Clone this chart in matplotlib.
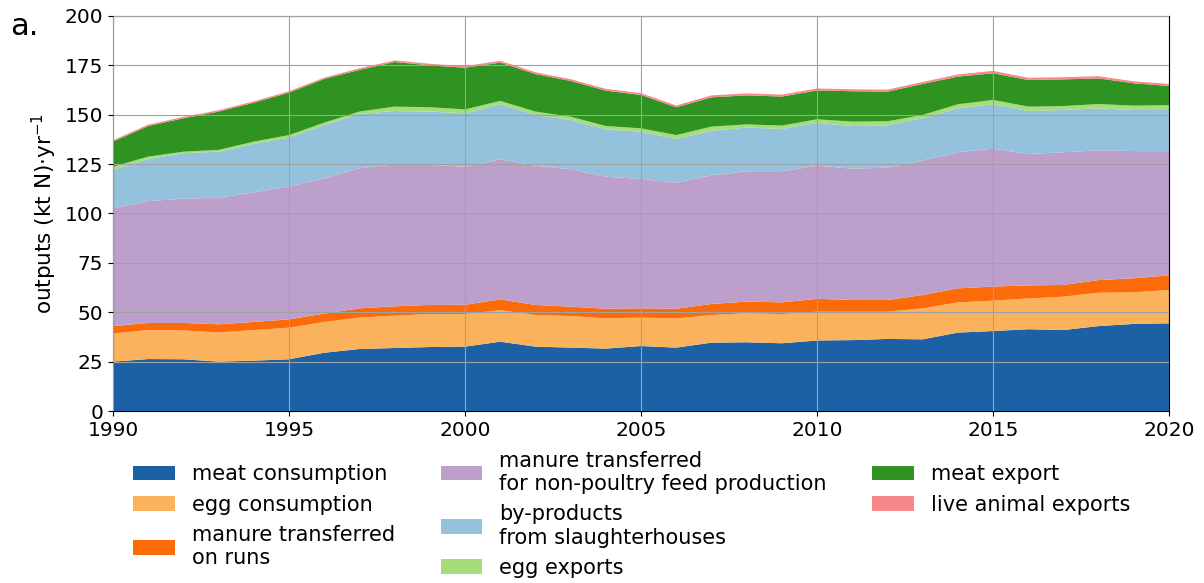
import numpy as np
import matplotlib
matplotlib.use('Agg')
import matplotlib.pyplot as plt

# Poultry N outputs, kt N per year
years = np.arange(1990, 2021)

meat_consumption = [25.0, 26.3, 26.2, 25.0, 25.5, 26.2, 29.5, 31.4, 31.9, 32.4,
                    32.6, 35.1, 32.6, 32.1, 31.6, 32.9, 32.1, 34.6, 34.8, 34.3,
                    35.7, 35.9, 36.5, 36.3, 39.7, 40.5, 41.4, 41.0, 43.0, 44.1, 44.4]
egg_consumption = [14.3, 14.7, 14.6, 14.8, 15.5, 16.0, 15.6, 15.9, 16.4, 16.7,
                   16.5, 16.0, 16.0, 16.0, 15.3, 14.4, 14.8, 14.0, 14.7, 14.8,
                   14.6, 14.4, 13.8, 15.7, 15.3, 15.4, 15.6, 16.9, 16.9, 16.0, 16.9]
manure_runs = [3.7, 3.6, 3.8, 4.1, 4.1, 4.2, 4.2, 4.7, 4.7, 4.6,
               4.7, 5.4, 5.1, 4.7, 4.9, 4.7, 4.9, 5.6, 5.9, 5.9,
               6.5, 5.9, 5.9, 6.7, 7.1, 7.1, 6.6, 5.9, 6.4, 7.1, 7.4]
manure_feed = [59.6, 61.7, 62.9, 64.1, 65.6, 67.2, 68.5, 70.9, 71.9, 70.9,
               69.9, 70.9, 70.5, 69.6, 66.8, 65.5, 63.8, 65.1, 66.0, 66.4,
               67.4, 66.5, 67.0, 68.1, 68.9, 69.8, 66.5, 67.2, 65.7, 64.4, 62.9]
by_products = [19.4, 21.3, 23.0, 23.3, 24.5, 24.8, 27.0, 27.5, 27.0, 27.0,
               27.0, 27.9, 25.7, 24.9, 24.0, 23.9, 22.1, 22.6, 22.1, 21.4,
               21.7, 21.6, 21.4, 21.4, 22.2, 22.5, 21.8, 21.4, 21.2, 20.8, 20.8]
egg_exports = [1.7, 1.2, 0.8, 0.9, 1.2, 1.3, 1.2, 1.2, 2.2, 2.2,
               2.0, 1.7, 1.7, 1.7, 1.7, 1.7, 2.0, 2.1, 1.6, 1.7,
               1.8, 2.2, 2.1, 1.7, 2.1, 2.2, 2.2, 2.0, 2.2, 2.2, 2.4]
meat_export = [12.7, 15.5, 16.9, 19.4, 19.7, 21.5, 22.1, 21.1, 22.6, 21.2,
               21.1, 19.4, 19.0, 18.1, 17.9, 16.9, 14.1, 14.8, 14.7, 14.7,
               14.6, 15.4, 15.0, 15.7, 14.0, 13.5, 13.5, 13.5, 13.0, 11.3, 9.8]
live_exports = [0.7, 0.7, 0.7, 0.7, 0.7, 0.7, 0.7, 0.8, 0.8, 0.8,
                0.8, 0.9, 0.9, 0.9, 0.9, 0.9, 0.9, 1.0, 1.0, 1.0,
                1.0, 1.0, 1.0, 1.0, 1.1, 1.2, 1.1, 1.1, 1.1, 1.0, 1.0]

labels = ['meat consumption', 'egg consumption', 'manure transferred\non runs',
          'manure transferred\nfor non-poultry feed production',
          'by-products\nfrom slaughterhouses', 'egg exports',
          'meat export', 'live animal exports']
colors = ['#1c61a5', '#fab25c', '#fd6a0a', '#bd9fcb',
          '#94c2dc', '#a6dc7a', '#2e9320', '#f8878a']

fig = plt.figure(figsize=(12.04, 5.83), dpi=100)
ax = fig.add_axes([0.0939, 0.295, 0.8771, 0.6776])

ax.stackplot(years, meat_consumption, egg_consumption, manure_runs, manure_feed,
             by_products, egg_exports, meat_export, live_exports,
             labels=labels, colors=colors, linewidth=0.5)

# Format the plot
ax.set_xlim(1990, 2020)
ax.set_ylim(0, 200)
ax.set_xticks(np.arange(1990, 2021, 5))
ax.set_yticks(np.arange(0, 201, 25))
ax.tick_params(labelsize=14.5)
ax.grid(True, color='#a0a0a0', linewidth=0.8)
ax.set_axisbelow(False)
ax.set_ylabel('outputs (kt N)$\\cdot$yr$^{-1}$', fontsize=15.5)

ax.legend(loc='upper center', bbox_to_anchor=(0.491, -0.053), ncol=3,
          frameon=False, fontsize=15, columnspacing=2.2)

fig.text(0.008, 0.94, 'a.', fontsize=22)

fig.savefig('out.png', dpi=100)
